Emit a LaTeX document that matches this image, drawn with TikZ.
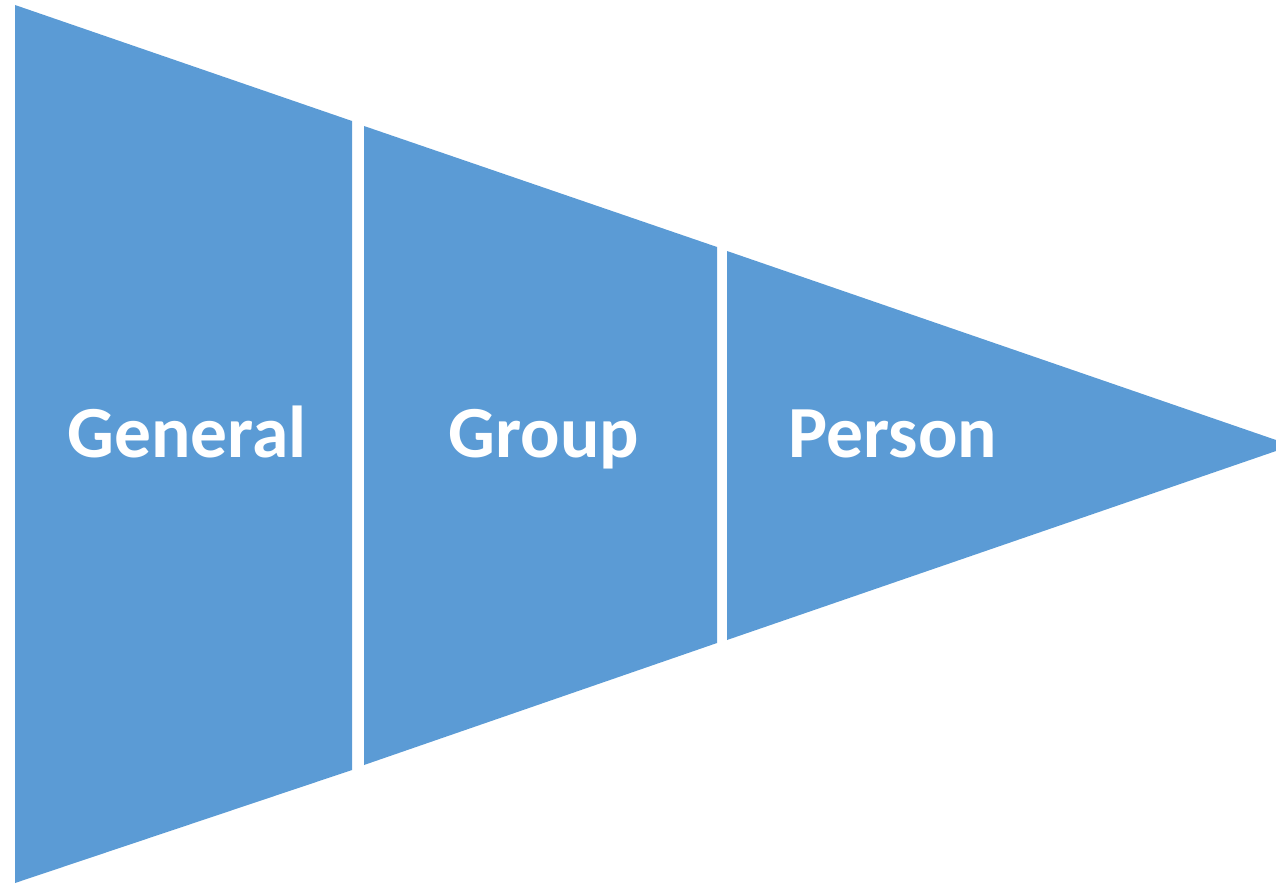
\documentclass[tikz,border=0pt]{standalone}
\usepackage{fontspec}
\setmainfont{Carlito}
\definecolor{segblue}{HTML}{5B9BD5}
\begin{document}
\begin{tikzpicture}[x=1pt,y=-1pt,
  seg/.style={fill=segblue,draw=none},
  lbl/.style={text=white,font=\bfseries\fontsize{73.5}{88}\selectfont,inner sep=0pt,anchor=base}]
\useasboundingbox (0,0) rectangle (1276,883);
\fill[seg] (15,5) -- (352,121) -- (352,770) -- (15,883) -- cycle;
\fill[seg] (364,126) -- (717,247) -- (717,643) -- (364,765) -- cycle;
\fill[seg] (727,251) -- (1276,440) -- (1276,451) -- (727,640) -- cycle;
\node[lbl] (general) at (187,457) {General};
\node[lbl] (group) at (544,457) {Group};
\node[lbl] (person) at (893,457) {Person};
\end{tikzpicture}
\end{document}
